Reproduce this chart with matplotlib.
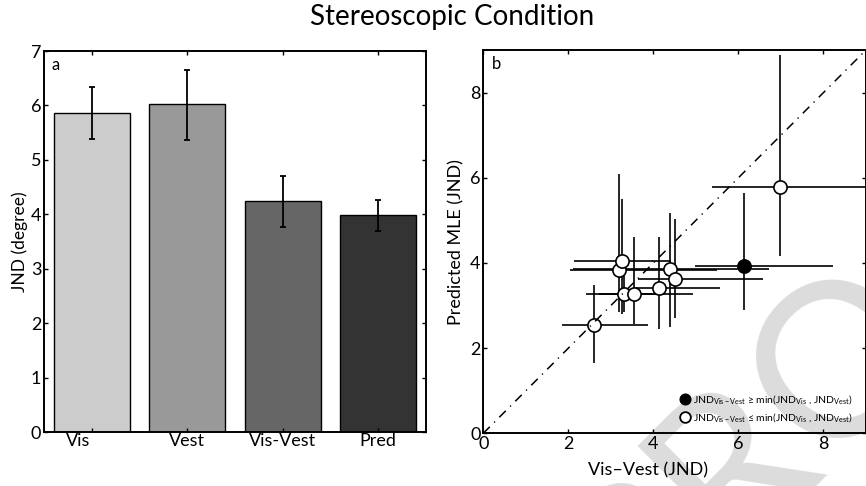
import matplotlib

matplotlib.use("Agg")
import matplotlib.pyplot as plt  # noqa: E402
import matplotlib.transforms as mtransforms  # noqa: E402
import numpy as np  # noqa: E402
from matplotlib.lines import Line2D  # noqa: E402

plt.rcParams["font.family"] = ["Lato", "DejaVu Sans"]
plt.rcParams["mathtext.fontset"] = "custom"
plt.rcParams["mathtext.rm"] = "Lato"
plt.rcParams["mathtext.it"] = "Lato"

# panel a: JND per condition
conditions = ["Vis", "Vest", "Vis-Vest", "Pred"]
jnd_mean = [5.86, 6.02, 4.24, 3.99]
jnd_lo = [5.38, 5.36, 3.77, 3.69]
jnd_hi = [6.33, 6.66, 4.70, 4.27]
bar_colors = ["#cccccc", "#999999", "#666666", "#333333"]

# panel b: per-subject Vis-Vest JND vs predicted MLE JND
vv_jnd = [2.61, 3.30, 3.55, 4.13, 3.19, 3.26, 4.39, 4.51, 6.12, 6.97]
vv_lo = [1.86, 2.41, 2.73, 3.60, 2.05, 2.13, 2.10, 3.63, 4.97, 5.39]
vv_hi = [3.87, 4.20, 4.94, 5.57, 5.49, 4.42, 6.72, 6.57, 8.22, 9.30]
mle_jnd = [2.55, 3.26, 3.28, 3.41, 3.84, 4.04, 3.85, 3.62, 3.93, 5.78]
mle_lo = [1.66, 2.85, 2.57, 2.45, 2.84, 2.80, 2.50, 2.70, 2.90, 4.16]
mle_hi = [3.49, 3.70, 4.60, 4.62, 6.08, 5.50, 5.17, 5.04, 5.65, 8.89]
above_min = [False, False, False, False, False, False, False, False, True, False]

W, H = 866, 486
fig = plt.figure(figsize=(W / 100, H / 100), dpi=100)
ax1 = fig.add_axes([44 / W, (H - 432) / H, (426 - 44) / W, (432 - 51) / H])
ax2 = fig.add_axes([483.3 / W, (H - 433.3) / H, (866 - 483.3) / W, (433.3 - 50) / H])
ax2.set_facecolor("none")

# "PROOF" watermark of the source page (cut by the page edge there too)
fig.text(852 / W, 1 - 345 / H, "PROOF", fontsize=155, color="#dcdcdc", rotation=45,
         ha="center", va="center", rotation_mode="anchor", zorder=-1)

for ax in (ax1, ax2):
    for sp in ax.spines.values():
        sp.set_linewidth(1.4)
    ax.tick_params(direction="in", top=True, right=True, length=3, width=1,
                   labelsize=13, pad=2)

# --- panel a ---
xpos = np.arange(1, len(conditions) + 1)
yerr = [np.array(jnd_mean) - np.array(jnd_lo), np.array(jnd_hi) - np.array(jnd_mean)]
ax1.bar(xpos, jnd_mean, width=0.8, color=bar_colors, edgecolor="black", linewidth=1)
ax1.errorbar(xpos, jnd_mean, yerr=yerr, fmt="none", ecolor="black", elinewidth=1.3,
             capsize=2, capthick=1.3)
ax1.set_xlim(0.5, 4.5)
ax1.set_ylim(0, 7)
ax1.set_xticks(xpos)
ax1.set_xticklabels(conditions, fontsize=13)
ax1.tick_params(axis="x", pad=1)
off = mtransforms.ScaledTranslation(-14 / 100, 0, fig.dpi_scale_trans)
lab0 = ax1.get_xticklabels()[0]
lab0.set_transform(lab0.get_transform() + off)
ax1.set_ylabel("JND (degree)", fontsize=12.5, labelpad=2)
ax1.text(0.02, 0.985, "a", transform=ax1.transAxes, fontsize=12, va="top", ha="left")

# --- panel b ---
vv = np.array(vv_jnd)
ml = np.array(mle_jnd)
xerr = [vv - np.array(vv_lo), np.array(vv_hi) - vv]
yerr2 = [ml - np.array(mle_lo), np.array(mle_hi) - ml]
ax2.errorbar(vv, ml, xerr=xerr, yerr=yerr2, fmt="none", ecolor="black",
             elinewidth=1.2, capsize=0, zorder=2)
filled = np.array(above_min)
ax2.plot(vv[~filled], ml[~filled], "o", ms=9.5, mfc="white", mec="black", mew=1.2,
         ls="none", zorder=3)
ax2.plot(vv[filled], ml[filled], "o", ms=9.5, mfc="black", mec="black", mew=1.2,
         ls="none", zorder=3)
ax2.plot([0, 9], [0, 9], color="black", lw=1.1, dashes=(6, 4, 0.8, 4), zorder=4)
ax2.set_xlim(0, 9)
ax2.set_ylim(0, 9)
ax2.set_xticks([0, 2, 4, 6, 8])
ax2.set_yticks([0, 2, 4, 6, 8])
ax2.set_xlabel("Vis\u2013Vest (JND)", fontsize=13, labelpad=1)
ax2.xaxis.set_label_coords(0.43, -0.075)
ax2.set_ylabel("Predicted MLE (JND)", fontsize=13, labelpad=4)
ax2.text(0.022, 0.985, "b", transform=ax2.transAxes, fontsize=12, va="top", ha="left")

handles = [
    Line2D([], [], marker="o", ls="none", ms=7.7, mfc="black", mec="black"),
    Line2D([], [], marker="o", ls="none", ms=7.7, mfc="white", mec="black", mew=1.3),
]
labels = [
    "JND$_{\\mathrm{Vis-Vest}}$ \u2265 min(JND$_{\\mathrm{Vis}}$ , JND$_{\\mathrm{Vest}}$)",
    "JND$_{\\mathrm{Vis-Vest}}$ \u2264 min(JND$_{\\mathrm{Vis}}$ , JND$_{\\mathrm{Vest}}$)",
]
ax2.legend(handles, labels, loc="lower right", bbox_to_anchor=(0.99, 0.0), frameon=False,
           fontsize=7.5, handletextpad=0.25, labelspacing=0.45, borderaxespad=0.5,
           handlelength=1.0)

fig.text(452 / W, 1 - 17 / H, "Stereoscopic Condition", fontsize=20, ha="center",
         va="center")

fig.savefig("out.png", dpi=100)
